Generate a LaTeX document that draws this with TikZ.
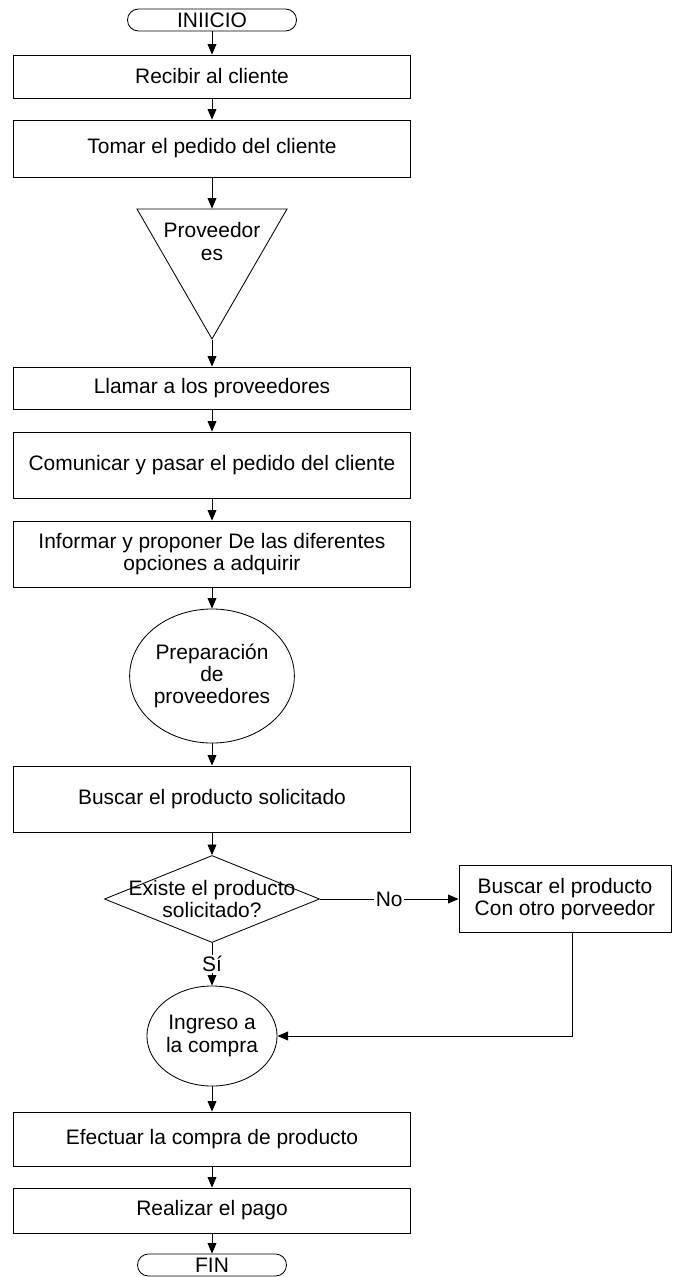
\documentclass[tikz,border=0pt]{standalone}
\usepackage{fontspec}
\setmainfont{Liberation Sans}
\usetikzlibrary{shapes.geometric,arrows.meta}

\begin{document}
\begin{tikzpicture}[x=0.025cm,y=-0.025cm,
		font=\fontsize{14.9}{15.8}\selectfont,
		line width=0.6pt,
		>={Triangle[length=7.5pt,width=6.3pt]},
		box/.style={draw,rectangle,minimum width=9.925cm,inner sep=0pt,align=center},
		term/.style={draw,rectangle,rounded corners=0.275cm,minimum height=0.55cm,inner sep=0pt},
		oval/.style={draw,ellipse,inner sep=0pt,align=center},
		tag/.style={fill=white,inner sep=1pt}]
			\useasboundingbox (0,0) rectangle (672,1277);
			\node	(ini) at (212,20) [term, minimum width=4.225cm] {INIICIO};
			\node	(rec) at (212,76.5) [box, minimum height=1.075cm] {Recibir al cliente};
			\node	(tom) at (212,148.5) [box, minimum height=1.425cm] {Tomar el pedido del cliente};
			\node	(prov) at (212,252.3) [draw, regular polygon, regular polygon sides=3, shape border rotate=180, minimum size=4.33cm, inner sep=0pt, label={[align=center,yshift=0.27cm]center:Proveedor\\es}] {};
			\node	(llam) at (212,388) [box, minimum height=1.05cm] {Llamar a los proveedores};
			\node	(com) at (212,465) [box, minimum height=1.65cm] {Comunicar y pasar el pedido del cliente};
			\node	(inf) at (212,554) [box, minimum height=1.65cm] {Informar y proponer De las diferentes\\opciones a adquirir};
			\node	(prep) at (212,676) [oval, minimum width=3.75cm, minimum height=3.35cm] {Preparación\\de\\proveedores};
			\node	(bus) at (212,799) [box, minimum height=1.65cm] {Buscar el producto solicitado};
			\node	(exis) at (212,899) [draw, diamond, minimum width=5.375cm, minimum height=2.175cm, inner sep=0pt, label={[align=center]center:Existe el producto\\solicitado?}] {};
			\node	(otro) at (565,899) [box, minimum width=5.3cm, minimum height=1.675cm] {Buscar el producto\\Con otro porveedor};
			\node	(ingr) at (212,1036) [oval, minimum width=2.825cm, minimum height=2.5cm] {Ingreso a\\la compra};
			\node	(efec) at (212,1139) [box, minimum height=1.35cm] {Efectuar la compra de producto};
			\node	(pago) at (212,1210.5) [box, minimum height=1.125cm] {Realizar el pago};
			\node	(fin) at (212,1265) [term, minimum width=3.725cm] {FIN};
			
			\draw 
			(ini) edge[->] (rec)
			(rec) edge[->] (tom)
			(tom) edge[->] (prov)
			(prov) edge[->] (llam)
			(llam) edge[->] (com)
			(com) edge[->] (inf)
			(inf) edge[->] (prep)
			(prep) edge[->] (bus)
			(bus) edge[->] (exis)
			(exis) edge[->] node[tag] {No} (otro)
			(exis) edge[->] node[tag] {Sí} (ingr)
			(ingr) edge[->] (efec)
			(efec) edge[->] (pago)
			(pago) edge[->] (fin)
			;
			\draw[->] ([xshift=0.175cm]otro.south) |- (ingr);
		\end{tikzpicture}
\end{document}
